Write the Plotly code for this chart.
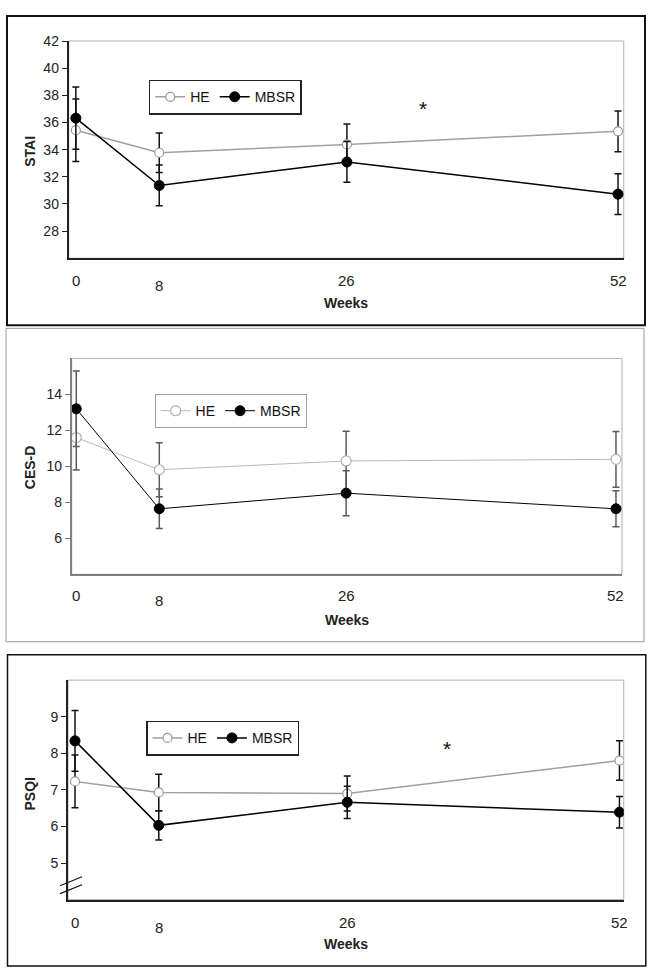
import plotly.graph_objects as go

W, H = 651, 974

weeks = [0, 8, 26, 52]
week_labels = ["0", "8", "26", "52"]

stai_he = [35.43, 33.77, 34.38, 35.35]
stai_he_err = [2.3, 1.45, 1.5, 1.5]
stai_mbsr = [36.32, 31.36, 33.09, 30.72]
stai_mbsr_err = [2.3, 1.5, 1.5, 1.5]

cesd_he = [11.6, 9.81, 10.30, 10.39]
cesd_he_err = [1.8, 1.5, 1.65, 1.55]
cesd_mbsr = [13.2, 7.64, 8.51, 7.64]
cesd_mbsr_err = [2.1, 1.1, 1.25, 1.0]

psqi_he = [7.23, 6.93, 6.90, 7.80]
psqi_he_err = [0.72, 0.5, 0.48, 0.54]
psqi_mbsr = [8.34, 6.03, 6.66, 6.39]
psqi_mbsr_err = [0.83, 0.4, 0.44, 0.43]

FONT = "Arial, Liberation Sans, Helvetica, sans-serif"


def px(xp):
    return xp / W


def py(yp):
    return 1 - yp / H


fig = go.Figure()

panels = [
    dict(n="", he=stai_he, he_e=stai_he_err, mb=stai_mbsr, mb_e=stai_mbsr_err,
         err_col="#111111", he_line="#a0a0a0", he_w=1.5, mb_w=1.5, he_size=9, mb_size=10,
         he_mk_line="#9a9a9a", axis_col="#222222", axis_w=2),
    dict(n="2", he=cesd_he, he_e=cesd_he_err, mb=cesd_mbsr, mb_e=cesd_mbsr_err,
         err_col="#5a5a5a", he_line="#b8b8b8", he_w=1, mb_w=1, he_size=10, mb_size=10,
         he_mk_line="#b0b0b0", axis_col="#808080", axis_w=1.5),
    dict(n="3", he=psqi_he, he_e=psqi_he_err, mb=psqi_mbsr, mb_e=psqi_mbsr_err,
         err_col="#111111", he_line="#a0a0a0", he_w=1.5, mb_w=1.5, he_size=9, mb_size=10,
         he_mk_line="#9a9a9a", axis_col="#222222", axis_w=2),
]

for p in panels:
    n = p["n"]
    leg = "legend" + n
    fig.add_trace(go.Scatter(
        x=weeks, y=p["he"], name="HE", mode="lines+markers",
        xaxis="x" + n, yaxis="y" + n, legend=leg,
        line=dict(color=p["he_line"], width=p["he_w"]),
        marker=dict(symbol="circle", size=p["he_size"], color="white",
                    line=dict(color=p["he_mk_line"], width=1.2)),
        error_y=dict(type="data", array=p["he_e"], visible=True,
                     color=p["err_col"], thickness=1.5, width=3.5),
    ))
    fig.add_trace(go.Scatter(
        x=weeks, y=p["mb"], name="MBSR", mode="lines+markers",
        xaxis="x" + n, yaxis="y" + n, legend=leg,
        line=dict(color="#000000", width=p["mb_w"]),
        marker=dict(symbol="circle", size=p["mb_size"], color="#000000",
                    line=dict(color="#000000", width=1)),
        error_y=dict(type="data", array=p["mb_e"], visible=True,
                     color=p["err_col"], thickness=1.5, width=3.5),
    ))

# geometry (pixels)
geo = [
    dict(n="", xl=68.75, xr=623.75, yt=33.3, yb=252.3, xr_=[-0.68, 52.55], yr=[26, 42],
         ticks=[28, 30, 32, 34, 36, 38, 40, 42], title="STAI", ty=145, lab_y=275, weeks_y=297,
         outer=(7, 8, 645, 320), outer_col="#111111", outer_w=2,
         leg=(148.75, 72.3), leg_col="#222222", leg_w=1.5),
    dict(n="2", xl=71.7, xr=622, yt=353.3, yb=571, xr_=[-0.44, 52.58], yr=[4, 16],
         ticks=[6, 8, 10, 12, 14], title="CES-D", ty=463, lab_y=592.7, weeks_y=616.7,
         outer=(6, 323, 644, 639), outer_col="#9a9a9a", outer_w=1,
         leg=(154.6, 389.3), leg_col="#a0a0a0", leg_w=1),
    dict(n="3", xl=68, xr=623.75, yt=677.7, yb=899, xr_=[-0.67, 52.41], yr=[4, 10],
         ticks=[5, 6, 7, 8, 9], title="PSQI", ty=793, lab_y=921.7, weeks_y=944,
         outer=(7.5, 652, 645.8, 966), outer_col="#111111", outer_w=1.5,
         leg=(146, 718.7), leg_col="#222222", leg_w=1.5),
]

shapes = []
annotations = []
layout = dict(
    width=W, height=H, margin=dict(l=0, r=0, t=0, b=0),
    paper_bgcolor="white", plot_bgcolor="white",
    font=dict(family=FONT, size=14, color="#222222"),
)

for g, p in zip(geo, panels):
    n = g["n"]
    xa = "xaxis" + n
    ya = "yaxis" + n
    layout[xa] = dict(
        domain=[px(g["xl"]), px(g["xr"])], range=g["xr_"], anchor="y" + n,
        showgrid=False, zeroline=False, showticklabels=False, ticks="",
        showline=True, linecolor=p["axis_col"], linewidth=p["axis_w"],
    )
    layout[ya] = dict(
        domain=[py(g["yb"]), py(g["yt"])], range=g["yr"], anchor="x" + n,
        showgrid=False, zeroline=False, tickvals=g["ticks"],
        ticks="outside", ticklen=5, tickwidth=1.2, tickcolor=p["axis_col"],
        showline=True, linecolor=p["axis_col"], linewidth=p["axis_w"],
        tickfont=dict(size=14, color="#222222"),
    )
    lx, ly = g["leg"]
    layout["legend" + n] = dict(
        x=px(lx), y=py(ly), xanchor="left", yanchor="top", orientation="h",
        bgcolor="white", bordercolor=g["leg_col"], borderwidth=g["leg_w"],
        font=dict(size=14, family=FONT, color="#111111"),
        itemwidth=30, tracegroupgap=0,
    )
    # plot area frame (top/right light grey)
    shapes.append(dict(type="rect", xref="x" + n + " domain", yref="y" + n + " domain",
                       x0=0, x1=1, y0=0, y1=1, layer="below",
                       line=dict(color="#b0b0b0", width=1)))
    # outer panel border
    x0, y0, x1, y1 = g["outer"]
    shapes.append(dict(type="rect", xref="paper", yref="paper",
                       x0=px(x0), x1=px(x1), y0=py(y1), y1=py(y0),
                       line=dict(color=g["outer_col"], width=g["outer_w"])))
    # x tick labels (the "8" label sits slightly lower in the original)
    for w, lab in zip(weeks, week_labels):
        annotations.append(dict(
            x=w, xref="x" + n, y=py(g["lab_y"]), yref="paper", text=lab,
            showarrow=False, xanchor="center", yanchor="middle",
            yshift=-5 if lab == "8" else 0,
            font=dict(size=15, family=FONT, color="#222222"),
        ))
    annotations.append(dict(
        x=0.5, xref="x" + n + " domain", y=py(g["weeks_y"]), yref="paper",
        text="<b>Weeks</b>", showarrow=False, xanchor="center", yanchor="middle",
        font=dict(size=14, family=FONT, color="#222222"),
    ))
    annotations.append(dict(
        x=px(30), xref="paper", y=py(g["ty"]), yref="paper",
        text="<b>" + g["title"] + "</b>", showarrow=False, textangle=-90,
        xanchor="center", yanchor="middle",
        font=dict(size=14, family=FONT, color="#222222"),
    ))

# significance asterisks
annotations.append(dict(x=px(423), xref="paper", y=py(101), yref="paper", text="*",
                        showarrow=False, yanchor="middle",
                        font=dict(size=21, family=FONT, color="#111111")))
annotations.append(dict(x=px(453), xref="paper", y=py(747), yref="paper", text="*",
                        showarrow=False, yanchor="middle",
                        font=dict(size=21, family=FONT, color="#111111")))

# axis break marks on PSQI axis
for (ax0, ay0, ax1, ay1) in [(60, 885, 82, 876), (60, 893, 82, 884)]:
    shapes.append(dict(type="line", xref="paper", yref="paper",
                       x0=px(ax0), y0=py(ay0), x1=px(ax1), y1=py(ay1),
                       line=dict(color="#111111", width=1.2)))

layout["shapes"] = shapes
layout["annotations"] = annotations
fig.update_layout(**layout)

fig.write_html(
    "out.html",
    config={"displayModeBar": False},
    post_script="document.body.style.margin='0';document.body.style.padding='0';",
)
